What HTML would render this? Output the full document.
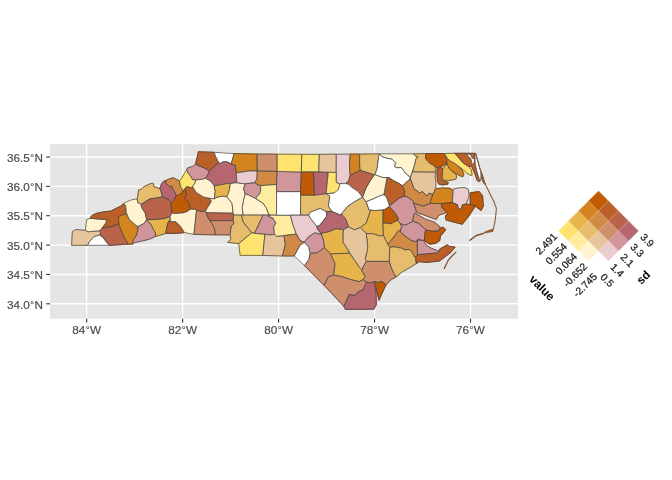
<!DOCTYPE html><html><head><meta charset="utf-8"><style>html,body{margin:0;padding:0;background:#fff;width:672px;height:480px;overflow:hidden;}svg{display:block;will-change:transform;}text{font-family:"Liberation Sans",sans-serif;}</style></head><body>
<svg width="672" height="480" viewBox="0 0 672 480">
<rect x="0" y="0" width="672" height="480" fill="#ffffff"/>
<rect x="50.0" y="144.2" width="468.0" height="174.5" fill="#E5E5E5"/>
<line x1="86.70" y1="144.2" x2="86.70" y2="318.7" stroke="#fff" stroke-width="1.4"/>
<line x1="182.65" y1="144.2" x2="182.65" y2="318.7" stroke="#fff" stroke-width="1.4"/>
<line x1="278.60" y1="144.2" x2="278.60" y2="318.7" stroke="#fff" stroke-width="1.4"/>
<line x1="374.55" y1="144.2" x2="374.55" y2="318.7" stroke="#fff" stroke-width="1.4"/>
<line x1="470.50" y1="144.2" x2="470.50" y2="318.7" stroke="#fff" stroke-width="1.4"/>
<line x1="50.0" y1="157.00" x2="518.0" y2="157.00" stroke="#fff" stroke-width="1.4"/>
<line x1="50.0" y1="186.36" x2="518.0" y2="186.36" stroke="#fff" stroke-width="1.4"/>
<line x1="50.0" y1="215.72" x2="518.0" y2="215.72" stroke="#fff" stroke-width="1.4"/>
<line x1="50.0" y1="245.08" x2="518.0" y2="245.08" stroke="#fff" stroke-width="1.4"/>
<line x1="50.0" y1="274.44" x2="518.0" y2="274.44" stroke="#fff" stroke-width="1.4"/>
<line x1="50.0" y1="303.80" x2="518.0" y2="303.80" stroke="#fff" stroke-width="1.4"/>
<g stroke-width="1.2" stroke-linejoin="round">
<polygon points="71.6,245.3 72.3,231.7 75.9,229.5 85.4,230.3 88.3,231.7 100.0,230.7 100.7,233.9 99.5,235.0 94.1,236.8 89.8,241.2 87.6,245.3" fill="#E7C59C" stroke="#E7C59C"/>
<polygon points="87.6,245.3 89.8,241.2 94.1,236.8 99.5,235.0 102.9,237.1 105.8,241.2 109.4,245.3" fill="#FFFFFF" stroke="#FFFFFF"/>
<polygon points="85.4,230.3 86.1,223.7 86.9,219.3 90.5,218.2 98.5,219.1 104.3,219.3 107.3,220.8 104.3,225.2 102.2,228.1 100.0,230.7 88.3,231.7" fill="#FFF4CF" stroke="#FFF4CF"/>
<polygon points="90.5,218.2 91.2,216.4 93.0,215.1 96.6,213.3 102.9,212.0 106.4,211.5 110.9,211.1 113.6,209.7 118.0,207.5 120.7,206.2 122.5,204.8 123.4,203.5 125.2,204.8 126.1,208.4 126.1,212.0 127.0,214.2 124.3,214.6 121.6,215.1 118.5,216.9 118.9,223.7 113.1,226.3 102.2,228.1 104.3,225.2 107.3,220.8 104.3,219.3 98.5,219.1" fill="#BA5F28" stroke="#BA5F28"/>
<polygon points="100.7,233.9 100.0,230.7 102.2,228.1 113.1,226.3 118.9,223.7 119.6,226.3 122.6,233.9 124.7,238.3 128.4,244.1 109.4,245.3 105.8,241.2 102.9,237.1 99.5,235.0" fill="#B8634A" stroke="#B8634A"/>
<polygon points="118.5,216.9 121.6,215.1 124.3,214.6 127.0,214.2 129.1,219.3 134.9,224.4 137.9,226.6 137.9,231.0 136.4,235.4 133.5,239.7 132.0,244.1 128.4,244.1 124.7,238.3 122.6,233.9 119.6,226.3 118.9,223.7" fill="#D4841F" stroke="#D4841F"/>
<polygon points="123.4,203.5 127.0,201.7 131.4,199.9 135.9,199.0 137.2,199.0 137.9,202.7 141.6,204.1 142.3,208.5 145.2,212.9 146.7,219.8 143.7,223.7 137.9,226.6 134.9,224.4 129.1,219.3 127.0,214.2 126.1,212.0 126.1,208.4 125.2,204.8" fill="#FFF4CF" stroke="#FFF4CF"/>
<polygon points="132.0,244.1 133.5,239.7 136.4,235.4 137.9,231.0 137.9,226.6 143.7,223.7 146.7,219.8 151.0,224.5 153.9,230.4 155.4,232.6 155.4,236.5 149.6,239.1 143.7,240.6 135.0,242.5" fill="#D1959C" stroke="#D1959C"/>
<polygon points="146.7,219.8 153.9,219.4 164.1,218.6 170.0,216.5 170.5,219.0 167.8,223.1 165.6,233.3 162.0,234.7 155.4,236.5 155.4,232.6 153.9,230.4 151.0,224.5" fill="#E7B44C" stroke="#E7B44C"/>
<polygon points="137.2,199.0 138.6,189.9 141.2,189.4 143.9,186.8 145.7,185.9 149.3,184.1 152.0,183.2 153.3,183.6 154.2,187.2 156.4,187.2 158.7,188.1 159.6,189.0 160.5,189.6 162.7,196.9 149.6,199.0 141.6,204.1 137.9,202.7" fill="#E6BD6D" stroke="#E6BD6D"/>
<polygon points="140.8,204.9 149.6,199.0 162.7,196.9 169.2,199.8 171.4,202.7 171.0,204.1 171.2,207.8 172.2,212.9 170.0,216.5 164.1,218.6 153.9,219.4 146.7,219.8 145.2,212.9 142.3,208.5" fill="#B8634A" stroke="#B8634A"/>
<polygon points="159.6,189.0 161.8,183.6 163.6,181.4 165.8,180.5 166.2,183.6 168.5,185.4 169.8,186.8 171.6,185.9 172.5,188.5 174.1,190.5 175.2,193.0 176.2,195.7 174.3,199.8 171.4,202.7 169.2,199.8 162.7,196.9 160.5,189.6" fill="#B5666E" stroke="#B5666E"/>
<polygon points="165.8,180.5 169.8,178.7 173.4,177.8 176.1,179.2 178.8,180.5 179.6,180.5 180.0,183.7 180.6,187.0 183.3,190.8 181.7,193.5 178.4,195.1 176.2,195.7 175.2,193.0 174.1,190.5 172.5,188.5 171.6,185.9 169.8,186.8 168.5,185.4 166.2,183.6" fill="#D08A46" stroke="#D08A46"/>
<polygon points="179.6,180.5 181.4,178.7 183.5,175.0 185.0,172.5 186.8,169.8 188.4,173.5 190.4,175.8 192.5,179.4 195.7,180.0 195.2,182.7 193.9,185.0 192.1,187.2 190.9,188.1 187.1,186.4 185.5,188.1 183.3,190.8 180.6,187.0 180.0,183.7" fill="#FEE36E" stroke="#FEE36E"/>
<polygon points="186.8,169.8 187.6,168.0 192.5,166.4 195.7,164.2 199.0,165.9 203.3,167.5 206.6,169.1 209.3,171.3 207.7,175.1 205.5,178.3 202.2,179.4 195.7,180.0 192.5,179.4 190.4,175.8 188.4,173.5" fill="#D1959C" stroke="#D1959C"/>
<polygon points="198.4,151.8 214.2,152.3 215.8,156.7 218.5,162.1 215.2,165.9 212.5,168.0 209.3,171.3 206.6,169.1 203.3,167.5 199.0,165.9 195.7,163.7 196.8,158.8" fill="#BA5F28" stroke="#BA5F28"/>
<polygon points="214.2,152.3 234.1,153.6 232.7,158.8 231.2,163.9 226.9,161.8 223.2,161.8 219.6,163.9 218.5,162.1 215.8,156.7" fill="#FFFFFF" stroke="#FFFFFF"/>
<polygon points="209.3,171.3 212.5,168.0 215.2,165.9 218.5,162.1 219.6,163.9 223.2,161.8 226.9,161.8 231.2,163.9 235.6,165.4 236.3,172.7 236.9,182.7 226.9,183.6 219.6,185.1 214.2,185.9 210.9,181.6 205.5,178.3 207.7,175.1" fill="#B5666E" stroke="#B5666E"/>
<polygon points="171.0,204.1 171.4,202.7 174.3,199.8 176.2,195.7 178.4,195.1 181.7,193.5 183.3,190.8 185.5,188.1 186.0,191.8 186.7,194.7 184.5,198.3 188.9,202.7 190.4,209.2 187.5,211.4 183.1,212.9 174.3,213.6 172.2,212.9 171.2,207.8" fill="#BE5B04" stroke="#BE5B04"/>
<polygon points="185.5,188.1 187.1,186.4 190.9,188.1 192.5,186.4 196.2,192.5 203.5,196.9 209.3,198.3 211.5,201.2 207.3,208.0 205.5,211.2 201.0,211.6 197.5,210.7 196.6,209.6 190.4,209.2 188.9,202.7 184.5,198.3 186.7,194.7 186.0,191.8" fill="#BA5F28" stroke="#BA5F28"/>
<polygon points="192.5,186.4 195.2,182.7 195.7,180.0 202.2,179.4 205.5,178.3 210.9,181.6 214.2,185.9 215.2,191.3 214.4,199.0 209.3,198.3 203.5,196.9 196.2,192.5" fill="#FFF4CF" stroke="#FFF4CF"/>
<polygon points="165.6,233.3 167.8,223.1 170.5,219.0 170.0,221.6 175.8,221.6 180.2,226.0 184.5,232.6 175.8,233.3" fill="#BA5F28" stroke="#BA5F28"/>
<polygon points="170.5,219.0 170.0,216.5 172.2,212.9 174.3,213.6 183.1,212.9 187.5,211.4 190.4,209.2 196.6,209.6 195.7,217.9 194.8,226.8 193.9,234.4 184.5,232.6 180.2,226.0 175.8,221.6 170.0,221.6" fill="#FFF4CF" stroke="#FFF4CF"/>
<polygon points="196.6,209.6 197.5,210.7 201.0,211.6 205.5,211.2 206.0,212.5 208.2,217.9 211.8,223.2 214.5,228.6 215.4,234.8 193.9,234.4 194.8,226.8 195.7,217.9" fill="#CF8F6D" stroke="#CF8F6D"/>
<polygon points="206.0,212.5 233.2,213.1 233.6,215.1 233.2,220.8 210.0,220.7 208.2,217.9" fill="#B8634A" stroke="#B8634A"/>
<polygon points="210.0,220.7 233.2,220.8 234.1,223.7 231.4,225.9 230.1,234.8 215.4,234.8 214.5,228.6 211.8,223.2" fill="#CF8F6D" stroke="#CF8F6D"/>
<polygon points="211.5,201.2 209.3,198.3 214.4,199.0 215.9,197.5 222.5,196.0 226.9,196.7 232.0,203.3 233.2,213.0 206.0,212.5 205.5,211.2 207.3,208.0" fill="#FFF4CF" stroke="#FFF4CF"/>
<polygon points="214.2,185.9 219.6,185.1 226.9,183.6 230.5,183.5 229.0,191.6 226.9,196.7 222.5,196.0 215.9,197.5 214.4,199.0 215.2,191.3" fill="#E7B44C" stroke="#E7B44C"/>
<polygon points="230.5,183.5 236.9,182.7 245.2,183.9 243.6,188.7 245.2,194.0 243.6,200.4 242.2,207.7 243.2,215.1 233.6,215.1 233.2,213.0 232.0,203.3 226.9,196.7 229.0,191.6" fill="#FFF4CF" stroke="#FFF4CF"/>
<polygon points="234.1,153.6 257.2,154.1 257.2,170.9 248.7,170.9 242.9,172.0 236.3,172.7 235.6,165.4 231.2,163.9 232.7,158.8" fill="#D4841F" stroke="#D4841F"/>
<polygon points="257.2,154.1 277.2,154.2 277.2,171.4 257.2,171.1" fill="#CF8F6D" stroke="#CF8F6D"/>
<polygon points="236.3,172.7 242.9,172.0 248.7,170.9 257.2,171.1 257.1,178.0 256.0,180.5 254.8,182.7 245.2,183.9 236.9,182.7" fill="#EACBCF" stroke="#EACBCF"/>
<polygon points="257.2,171.1 277.2,171.4 276.5,184.5 268.5,185.1 260.7,185.7 257.1,184.5 254.8,182.7 256.0,180.5 257.1,178.0" fill="#D08A46" stroke="#D08A46"/>
<polygon points="245.2,183.9 254.8,182.7 257.1,184.5 260.7,185.7 260.7,190.5 259.5,194.0 256.5,197.0 256.0,198.8 248.8,195.2 245.2,194.0 243.6,188.7" fill="#D1959C" stroke="#D1959C"/>
<polygon points="245.2,194.0 248.8,195.2 256.0,198.8 263.3,203.3 266.2,207.7 269.1,215.1 263.1,215.1 243.2,215.1 242.2,207.7 243.6,200.4" fill="#FFF4CF" stroke="#FFF4CF"/>
<polygon points="260.7,185.7 268.5,185.1 276.5,184.5 276.6,191.6 276.5,215.2 270.8,215.2 269.1,215.1 266.2,207.7 263.3,203.3 256.0,198.8 256.5,197.0 259.5,194.0 260.7,190.5" fill="#FEEC9F" stroke="#FEEC9F"/>
<polygon points="233.6,215.1 241.6,215.1 243.1,221.9 251.8,232.8 238.7,243.7 227.8,242.3 230.7,239.3 230.1,234.8 231.4,225.9 234.1,223.7 233.2,220.8" fill="#E6BD6D" stroke="#E6BD6D"/>
<polygon points="241.6,215.1 263.1,215.1 254.7,233.0 251.8,232.8 243.1,221.9" fill="#E6BD6D" stroke="#E6BD6D"/>
<polygon points="263.1,215.1 269.1,215.1 270.8,215.2 267.9,216.0 273.0,218.1 275.9,223.2 273.7,226.9 274.5,234.1 272.2,235.0 264.9,234.3 254.7,233.5 254.7,233.0" fill="#D1959C" stroke="#D1959C"/>
<polygon points="238.7,243.7 251.8,232.8 254.7,233.5 264.9,234.3 262.8,255.4 240.2,255.4" fill="#FEE36E" stroke="#FEE36E"/>
<polygon points="264.9,234.3 272.2,235.0 274.5,234.1 276.7,236.3 283.9,235.6 285.4,244.3 282.5,256.0 262.8,255.4" fill="#E7C59C" stroke="#E7C59C"/>
<polygon points="270.8,215.2 290.5,215.2 292.7,223.9 296.3,234.1 289.8,234.9 283.9,235.6 276.7,236.3 274.5,234.1 273.7,226.9 275.9,223.2 273.0,218.1 267.9,216.0" fill="#FEEC9F" stroke="#FEEC9F"/>
<polygon points="276.6,191.6 300.6,191.6 300.6,213.5 300.6,215.2 290.5,215.2 276.5,215.2" fill="#FFFFFF" stroke="#FFFFFF"/>
<polygon points="277.2,171.4 301.3,172.0 300.6,191.6 276.6,191.6 276.5,184.3" fill="#D1959C" stroke="#D1959C"/>
<polygon points="277.2,154.2 301.8,154.3 301.3,172.0 277.2,171.4" fill="#FEE36E" stroke="#FEE36E"/>
<polygon points="301.8,154.3 319.3,154.3 318.8,172.0 301.3,172.0" fill="#FEE36E" stroke="#FEE36E"/>
<polygon points="319.3,154.3 336.3,154.2 336.3,172.5 328.3,172.7 318.8,172.0" fill="#E7C59C" stroke="#E7C59C"/>
<polygon points="336.3,154.2 350.2,154.1 349.5,165.4 350.2,175.6 348.7,180.7 345.8,183.6 339.8,184.2 336.1,182.3 336.2,172.5" fill="#EACBCF" stroke="#EACBCF"/>
<polygon points="350.2,154.1 359.7,154.1 359.7,165.4 360.4,170.5 355.3,172.7 350.2,175.6 349.5,165.4" fill="#D4841F" stroke="#D4841F"/>
<polygon points="359.7,154.1 379.5,153.8 378.7,156.7 377.8,163.0 377.0,169.2 374.9,174.6 374.2,174.9 367.7,172.7 360.4,170.5 359.7,165.4" fill="#E6BD6D" stroke="#E6BD6D"/>
<polygon points="379.5,153.8 413.7,153.8 415.3,155.8 418.2,157.1 416.2,158.3 414.5,165.0 412.8,170.8 411.2,175.0 410.3,178.3 407.8,175.0 405.3,173.3 403.7,170.8 401.2,167.5 397.0,167.9 394.5,166.7 395.3,162.5 392.0,159.2 387.0,158.3 382.0,156.7" fill="#FFF4CF" stroke="#FFF4CF"/>
<polygon points="379.5,153.8 378.7,156.7 377.8,163.0 377.0,169.2 374.9,174.6 377.8,175.8 382.8,177.5 388.7,177.5 393.7,180.8 398.7,183.3 402.4,185.8 405.3,183.3 407.8,180.8 409.9,179.6 410.3,178.3 407.8,175.0 405.3,173.3 403.7,170.8 401.2,167.5 397.0,167.9 394.5,166.7 395.3,162.5 392.0,159.2 387.0,158.3 382.0,156.7" fill="#FFFFFF" stroke="#FFFFFF"/>
<polygon points="413.7,153.8 426.1,153.7 425.4,158.1 427.6,161.0 430.0,163.3 433.3,165.0 435.8,167.5 435.8,170.8 434.1,172.2 413.0,172.0 412.8,170.8 414.5,165.0 416.2,158.3 418.2,157.1 415.3,155.8" fill="#E6BD6D" stroke="#E6BD6D"/>
<polygon points="426.1,153.7 444.5,153.5 445.8,156.7 447.1,158.3 447.1,163.3 444.2,165.0 441.7,166.2 437.5,167.5 435.8,167.5 433.3,165.0 430.0,163.3 427.6,161.0 425.4,158.1" fill="#BE5B04" stroke="#BE5B04"/>
<polygon points="437.5,168.3 440.8,167.5 442.9,168.8 442.5,171.7 442.1,176.7 442.9,180.0 445.8,181.7 448.3,182.5 447.5,184.2 442.5,185.0 439.2,184.2 437.5,181.7 437.1,175.8 437.1,170.8" fill="#BA5F28" stroke="#BA5F28"/>
<polygon points="442.9,168.8 445.0,165.8 447.1,164.2 449.2,168.3 452.5,171.7 455.8,173.8 456.7,176.7 455.8,179.2 450.0,180.4 444.6,180.4 442.5,179.2 442.1,176.7 442.5,171.7" fill="#E7B44C" stroke="#E7B44C"/>
<polygon points="446.5,156.7 447.1,158.3 450.0,160.8 455.0,163.3 458.3,166.7 461.7,169.6 463.8,174.2 462.9,176.7 460.0,175.8 456.7,173.8 452.5,171.7 449.2,168.3 447.1,164.2 447.1,163.3" fill="#D4841F" stroke="#D4841F"/>
<polygon points="444.5,153.5 454.9,153.3 462.0,161.7 463.8,163.4 468.5,166.4 471.5,170.0 472.1,175.3 470.3,175.3 466.7,173.0 462.0,168.8 454.9,163.4 450.0,160.8 447.1,158.3 446.5,156.7" fill="#FEE36E" stroke="#FEE36E"/>
<polygon points="454.9,153.3 475.0,153.4 475.0,159.0 475.3,164.7 476.7,170.4 478.1,175.3 479.9,181.0 479.2,181.6 477.1,180.3 475.3,174.6 473.2,169.7 471.5,166.5 468.5,166.4 463.8,163.4 462.0,161.7" fill="#BA5F28" stroke="#BA5F28"/>
<polygon points="466.8,153.7 469.5,154.6 470.6,154.2 471.2,156.2 472.4,158.3 474.6,158.8 474.3,162.0 473.0,164.5 471.8,163.5 471.6,160.5 470.3,158.0 468.5,156.5 467.2,155.0" fill="#FFFFFF" stroke="#FFFFFF"/>
<polygon points="475.0,153.4 475.6,153.2 477.5,160.0 480.0,168.8 481.0,171.8 481.2,176.0 480.3,181.0 479.9,181.0 478.1,175.3 476.7,170.4 475.3,164.7 475.0,159.0" fill="#FFFFFF" stroke="#FFFFFF"/>
<polygon points="481.0,171.8 482.5,176.2 484.4,182.5 485.2,184.0 484.2,183.5 481.5,178.0 481.2,176.0" fill="#BA5F28" stroke="#BA5F28"/>
<polygon points="412.8,170.8 413.0,172.0 434.1,172.2 435.8,171.7 435.0,175.8 435.8,182.5 435.8,188.3 434.2,191.7 432.7,194.5 429.0,193.1 426.9,196.0 422.5,191.6 419.6,193.1 413.7,188.0 412.0,183.3 410.3,178.3 411.2,175.0" fill="#E7C59C" stroke="#E7C59C"/>
<polygon points="402.4,185.8 405.3,183.3 407.8,180.8 409.9,179.6 410.3,178.3 412.0,183.3 413.7,188.0 419.6,193.1 422.5,191.6 426.9,196.0 429.0,193.1 432.7,194.5 432.0,197.5 430.5,201.8 430.6,203.4 423.1,206.2 413.7,203.2 412.8,200.6 406.2,196.4 404.1,196.0 404.8,191.6" fill="#D08A46" stroke="#D08A46"/>
<polygon points="387.0,177.5 388.7,177.5 393.7,180.8 398.7,183.3 402.4,185.8 404.8,191.6 404.1,196.0 402.5,196.9 398.3,198.9 391.0,204.7 389.2,205.1 387.1,198.9 385.6,195.7 383.8,194.9 385.2,187.3" fill="#BA5F28" stroke="#BA5F28"/>
<polygon points="374.2,174.9 374.9,174.6 377.8,175.8 382.8,177.5 387.0,177.5 385.2,187.3 383.8,194.9 381.2,195.3 373.2,198.9 365.9,201.9 362.5,197.2 365.9,188.0 370.7,180.0" fill="#FFF4CF" stroke="#FFF4CF"/>
<polygon points="350.2,175.6 355.3,172.7 360.4,170.5 367.7,172.7 374.2,174.9 370.7,180.0 365.9,188.0 362.5,197.2 358.2,191.6 351.7,187.3 348.7,184.3 345.8,183.6 348.7,180.7" fill="#B8634A" stroke="#B8634A"/>
<polygon points="365.9,201.9 373.2,198.9 381.2,195.3 383.8,194.9 385.6,195.7 387.1,198.9 389.2,205.1 389.5,206.4 384.1,209.9 374.7,210.6 368.8,209.9 366.7,203.3" fill="#FFFFFF" stroke="#FFFFFF"/>
<polygon points="301.3,172.0 313.7,172.0 314.4,195.3 300.6,195.3 300.6,191.6" fill="#BE5B04" stroke="#BE5B04"/>
<polygon points="313.7,172.0 328.3,172.2 326.1,193.8 314.4,195.3" fill="#B5666E" stroke="#B5666E"/>
<polygon points="328.3,172.2 336.2,172.5 336.1,182.3 339.8,184.2 339.2,188.5 337.7,190.6 335.6,192.7 326.1,193.8" fill="#FEE36E" stroke="#FEE36E"/>
<polygon points="340.0,183.6 345.8,183.6 348.7,184.3 351.7,187.3 358.2,191.6 362.5,197.2 355.0,201.5 348.0,206.0 341.5,213.8 340.8,215.2 332.0,211.6 328.3,206.2 329.7,196.0 326.1,193.8 334.1,193.1 338.5,189.4" fill="#FFFFFF" stroke="#FFFFFF"/>
<polygon points="300.6,195.3 314.4,195.3 326.1,193.8 329.7,196.0 328.3,206.2 332.0,211.6 326.2,211.6 320.4,208.6 317.5,209.4 310.2,212.3 308.7,215.2 300.6,215.2" fill="#E6BD6D" stroke="#E6BD6D"/>
<polygon points="308.7,215.2 310.2,212.3 317.5,209.4 320.4,208.6 326.2,211.6 326.9,215.9 323.3,221.0 319.6,225.4 316.9,226.6 310.2,218.1" fill="#FFFFFF" stroke="#FFFFFF"/>
<polygon points="290.5,215.2 300.6,215.2 308.7,215.2 310.2,218.1 316.9,226.6 317.6,229.4 321.0,233.4 320.4,234.4 314.8,232.8 308.5,236.9 304.3,242.2 300.0,240.7 296.3,234.1 292.7,223.9" fill="#EACBCF" stroke="#EACBCF"/>
<polygon points="316.9,226.6 319.6,225.4 323.3,221.0 326.9,215.9 326.2,211.6 332.0,211.6 340.8,215.2 341.5,213.8 345.8,218.9 348.7,227.0 344.4,229.1 343.7,229.8 336.0,228.8 328.5,231.9 321.0,233.4 317.6,229.4" fill="#B5666E" stroke="#B5666E"/>
<polygon points="341.5,213.8 348.0,206.0 355.0,201.5 362.5,197.2 365.9,201.9 366.7,203.3 368.8,209.9 370.6,210.2 367.7,218.9 366.2,223.3 360.4,227.5 354.6,229.9 348.7,227.0 345.8,218.9" fill="#E6BD6D" stroke="#E6BD6D"/>
<polygon points="370.6,210.2 374.7,210.6 384.1,209.9 383.0,210.2 383.0,223.0 383.4,235.5 379.4,236.0 373.6,233.8 366.2,233.5 360.4,227.5 366.2,223.3 367.7,218.9" fill="#E7B44C" stroke="#E7B44C"/>
<polygon points="383.0,210.2 384.1,209.9 389.5,206.4 395.4,213.1 398.6,218.6 397.7,220.4 393.2,222.6 390.6,223.9 388.8,223.5 383.0,223.0" fill="#BE5B04" stroke="#BE5B04"/>
<polygon points="389.5,206.4 391.0,204.7 398.3,198.9 402.5,196.9 406.2,196.4 412.8,200.6 413.7,203.4 416.6,211.9 413.7,214.7 412.8,221.2 408.4,223.9 404.0,225.3 401.3,223.9 400.4,223.9 397.7,220.4 398.6,218.6 395.4,213.1" fill="#D1959C" stroke="#D1959C"/>
<polygon points="383.0,223.0 388.8,223.5 390.6,223.9 393.2,222.6 397.7,220.4 400.4,223.9 401.7,226.6 400.4,230.2 397.7,231.5 395.0,235.5 390.6,240.9 387.9,244.5 386.1,240.9 383.4,235.5" fill="#E7B44C" stroke="#E7B44C"/>
<polygon points="400.4,223.9 401.3,223.9 404.0,225.3 408.4,223.9 412.8,221.2 418.4,223.1 425.9,229.7 425.0,232.5 424.4,240.5 417.5,239.3 416.5,241.8 412.0,240.9 406.6,237.3 400.4,232.0 400.4,230.2 401.7,226.6" fill="#D1959C" stroke="#D1959C"/>
<polygon points="417.5,240.1 423.3,240.5 426.7,245.5 430.8,248.0 439.2,251.3 437.5,253.0 428.3,253.8 417.5,254.7 417.1,247.2" fill="#D1959C" stroke="#D1959C"/>
<polygon points="425.9,229.7 432.5,231.1 439.0,230.6 440.5,228.0 442.8,227.3 445.6,229.7 441.9,234.4 440.5,235.4 439.7,240.5 435.4,243.4 429.5,244.1 424.4,240.5 425.0,232.5" fill="#BE5B04" stroke="#BE5B04"/>
<polygon points="387.9,244.5 390.6,240.9 395.0,235.5 397.7,231.5 400.4,230.2 400.4,232.0 406.6,237.3 412.0,240.9 416.5,241.8 417.5,240.1 417.1,247.2 417.5,254.7 415.7,257.3 414.2,256.7 412.1,252.0 409.0,249.4 404.8,249.9 401.7,248.3 394.4,246.8 389.7,247.3" fill="#D08A46" stroke="#D08A46"/>
<polygon points="389.7,247.3 394.4,246.8 401.7,248.3 404.8,249.9 409.0,249.4 412.1,252.0 414.2,256.7 415.7,257.3 416.3,263.4 410.0,267.6 401.7,272.3 396.5,276.5 394.4,274.4 391.3,268.1 389.2,260.8" fill="#E6BD6D" stroke="#E6BD6D"/>
<polygon points="415.7,257.3 417.5,254.7 428.3,253.8 437.5,253.0 439.2,251.3 439.7,249.2 447.0,244.9 449.2,246.3 455.0,247.1 450.0,252.9 444.1,257.3 439.7,260.9 426.6,262.4 419.3,261.6 416.3,263.4" fill="#BA5F28" stroke="#BA5F28"/>
<polygon points="366.2,233.5 373.6,233.8 379.4,236.0 383.4,235.5 386.1,240.9 387.9,244.5 389.7,247.3 389.2,260.8 389.2,261.4 375.6,261.4 366.3,261.4 365.2,258.8 367.3,250.4 367.7,246.6" fill="#E6BD6D" stroke="#E6BD6D"/>
<polygon points="343.7,229.8 344.4,229.1 348.7,227.0 354.6,229.9 360.4,227.5 366.2,233.5 367.7,246.6 367.3,250.4 365.2,258.8 366.3,261.4 363.1,267.1 362.1,270.0 359.2,267.1 349.7,253.2 348.7,251.0 342.9,242.3 342.9,233.5" fill="#E7C59C" stroke="#E7C59C"/>
<polygon points="321.0,233.4 328.5,231.9 336.0,228.8 343.7,229.8 342.9,233.5 342.9,242.3 348.7,251.0 349.7,253.2 330.7,254.0 324.5,247.7 323.3,240.0" fill="#E7B44C" stroke="#E7B44C"/>
<polygon points="304.3,242.2 308.5,236.9 314.8,232.8 320.4,234.4 321.0,233.4 323.3,240.0 324.5,247.7 317.2,252.8 310.0,253.5 308.7,247.3" fill="#D1959C" stroke="#D1959C"/>
<polygon points="294.1,256.0 300.0,245.1 304.3,242.2 308.7,247.3 310.0,253.5 309.0,259.5 304.5,265.6 294.5,256.2" fill="#FFFFFF" stroke="#FFFFFF"/>
<polygon points="283.9,235.6 289.8,234.9 296.3,234.1 300.0,240.7 304.3,242.2 300.0,245.1 294.1,256.0 282.5,256.0 285.4,244.3" fill="#D08A46" stroke="#D08A46"/>
<polygon points="304.5,265.6 309.0,259.5 310.0,253.5 317.2,252.8 324.5,247.7 330.7,254.0 335.1,263.4 333.7,275.1 328.5,276.6 324.2,285.3" fill="#CF8F6D" stroke="#CF8F6D"/>
<polygon points="330.7,254.0 349.7,253.2 359.2,267.1 362.1,270.0 362.1,271.3 365.2,276.5 363.1,279.6 359.2,281.7 350.4,279.5 341.7,276.6 333.7,275.1 335.1,263.4" fill="#E7B44C" stroke="#E7B44C"/>
<polygon points="366.3,261.4 375.6,261.4 389.2,261.4 391.3,268.1 394.4,274.4 395.9,277.0 391.3,279.6 386.0,284.8 381.9,281.4 377.7,282.7 374.6,281.7 370.4,282.7 366.3,282.2 363.1,279.6 365.2,276.5 362.1,271.3 362.1,270.0 363.1,267.1" fill="#CF8F6D" stroke="#CF8F6D"/>
<polygon points="324.2,285.3 328.5,276.6 333.7,275.1 341.7,276.6 350.4,279.5 359.2,281.7 363.1,279.6 366.3,282.2 367.5,282.5 365.4,284.6 363.3,289.8 358.1,291.9 355.0,295.5 349.3,294.5 347.7,298.1 343.8,306.2" fill="#CF8F6D" stroke="#CF8F6D"/>
<polygon points="343.8,306.2 347.7,298.1 349.3,294.5 355.0,295.5 358.1,291.9 363.3,289.8 365.4,284.6 366.3,282.2 370.4,282.7 374.6,281.7 374.8,285.6 375.8,290.8 376.4,304.4 373.8,309.1 345.6,309.4" fill="#B5666E" stroke="#B5666E"/>
<polygon points="374.6,281.7 377.7,282.7 381.9,281.4 386.0,284.8 382.1,292.9 379.0,300.2 377.4,294.0 376.4,287.7 374.8,285.6" fill="#BE5B04" stroke="#BE5B04"/>
<polygon points="413.7,203.2 423.1,206.2 430.6,203.4 441.4,203.6 441.9,207.2 446.5,212.3 443.7,213.7 439.0,215.1 436.2,219.4 430.6,217.5 423.1,214.7 417.5,212.8 416.6,211.9" fill="#CF8F6D" stroke="#CF8F6D"/>
<polygon points="413.7,214.7 415.2,213.3 418.4,215.1 425.9,219.4 434.4,222.2 440.0,226.9 439.0,230.6 432.5,231.1 425.9,229.7 418.4,223.1 412.8,221.2" fill="#CF8F6D" stroke="#CF8F6D"/>
<polygon points="430.5,201.8 432.0,197.5 432.7,194.5 434.2,191.7 435.0,189.2 441.7,187.9 450.0,188.3 452.5,190.0 453.1,190.2 452.4,202.6 441.4,203.6 430.6,203.4" fill="#D4841F" stroke="#D4841F"/>
<polygon points="453.1,190.2 453.3,189.2 458.3,187.9 465.0,187.5 468.4,189.4 469.1,196.0 466.2,204.0 462.6,204.7 461.1,209.1 458.2,209.1 457.5,204.7 452.4,202.6" fill="#EACBCF" stroke="#EACBCF"/>
<polygon points="470.2,192.9 478.9,191.5 482.6,195.8 483.3,206.0 481.1,210.4 475.3,206.0 470.2,204.6" fill="#BE5B04" stroke="#BE5B04"/>
<polygon points="441.4,203.6 452.4,202.6 457.5,204.7 458.2,209.1 461.1,209.1 462.6,204.7 466.2,204.0 470.2,204.6 475.3,206.0 468.7,216.2 462.2,224.2 454.1,222.1 446.1,219.9 445.4,216.2 447.6,213.3 446.5,212.3 441.9,207.2" fill="#BE5B04" stroke="#BE5B04"/>
</g>
<g stroke="#474747" stroke-width="0.75" stroke-linejoin="round">
<polygon points="71.6,245.3 72.3,231.7 75.9,229.5 85.4,230.3 88.3,231.7 100.0,230.7 100.7,233.9 99.5,235.0 94.1,236.8 89.8,241.2 87.6,245.3" fill="#E7C59C"/>
<polygon points="87.6,245.3 89.8,241.2 94.1,236.8 99.5,235.0 102.9,237.1 105.8,241.2 109.4,245.3" fill="#FFFFFF"/>
<polygon points="85.4,230.3 86.1,223.7 86.9,219.3 90.5,218.2 98.5,219.1 104.3,219.3 107.3,220.8 104.3,225.2 102.2,228.1 100.0,230.7 88.3,231.7" fill="#FFF4CF"/>
<polygon points="90.5,218.2 91.2,216.4 93.0,215.1 96.6,213.3 102.9,212.0 106.4,211.5 110.9,211.1 113.6,209.7 118.0,207.5 120.7,206.2 122.5,204.8 123.4,203.5 125.2,204.8 126.1,208.4 126.1,212.0 127.0,214.2 124.3,214.6 121.6,215.1 118.5,216.9 118.9,223.7 113.1,226.3 102.2,228.1 104.3,225.2 107.3,220.8 104.3,219.3 98.5,219.1" fill="#BA5F28"/>
<polygon points="100.7,233.9 100.0,230.7 102.2,228.1 113.1,226.3 118.9,223.7 119.6,226.3 122.6,233.9 124.7,238.3 128.4,244.1 109.4,245.3 105.8,241.2 102.9,237.1 99.5,235.0" fill="#B8634A"/>
<polygon points="118.5,216.9 121.6,215.1 124.3,214.6 127.0,214.2 129.1,219.3 134.9,224.4 137.9,226.6 137.9,231.0 136.4,235.4 133.5,239.7 132.0,244.1 128.4,244.1 124.7,238.3 122.6,233.9 119.6,226.3 118.9,223.7" fill="#D4841F"/>
<polygon points="123.4,203.5 127.0,201.7 131.4,199.9 135.9,199.0 137.2,199.0 137.9,202.7 141.6,204.1 142.3,208.5 145.2,212.9 146.7,219.8 143.7,223.7 137.9,226.6 134.9,224.4 129.1,219.3 127.0,214.2 126.1,212.0 126.1,208.4 125.2,204.8" fill="#FFF4CF"/>
<polygon points="132.0,244.1 133.5,239.7 136.4,235.4 137.9,231.0 137.9,226.6 143.7,223.7 146.7,219.8 151.0,224.5 153.9,230.4 155.4,232.6 155.4,236.5 149.6,239.1 143.7,240.6 135.0,242.5" fill="#D1959C"/>
<polygon points="146.7,219.8 153.9,219.4 164.1,218.6 170.0,216.5 170.5,219.0 167.8,223.1 165.6,233.3 162.0,234.7 155.4,236.5 155.4,232.6 153.9,230.4 151.0,224.5" fill="#E7B44C"/>
<polygon points="137.2,199.0 138.6,189.9 141.2,189.4 143.9,186.8 145.7,185.9 149.3,184.1 152.0,183.2 153.3,183.6 154.2,187.2 156.4,187.2 158.7,188.1 159.6,189.0 160.5,189.6 162.7,196.9 149.6,199.0 141.6,204.1 137.9,202.7" fill="#E6BD6D"/>
<polygon points="140.8,204.9 149.6,199.0 162.7,196.9 169.2,199.8 171.4,202.7 171.0,204.1 171.2,207.8 172.2,212.9 170.0,216.5 164.1,218.6 153.9,219.4 146.7,219.8 145.2,212.9 142.3,208.5" fill="#B8634A"/>
<polygon points="159.6,189.0 161.8,183.6 163.6,181.4 165.8,180.5 166.2,183.6 168.5,185.4 169.8,186.8 171.6,185.9 172.5,188.5 174.1,190.5 175.2,193.0 176.2,195.7 174.3,199.8 171.4,202.7 169.2,199.8 162.7,196.9 160.5,189.6" fill="#B5666E"/>
<polygon points="165.8,180.5 169.8,178.7 173.4,177.8 176.1,179.2 178.8,180.5 179.6,180.5 180.0,183.7 180.6,187.0 183.3,190.8 181.7,193.5 178.4,195.1 176.2,195.7 175.2,193.0 174.1,190.5 172.5,188.5 171.6,185.9 169.8,186.8 168.5,185.4 166.2,183.6" fill="#D08A46"/>
<polygon points="179.6,180.5 181.4,178.7 183.5,175.0 185.0,172.5 186.8,169.8 188.4,173.5 190.4,175.8 192.5,179.4 195.7,180.0 195.2,182.7 193.9,185.0 192.1,187.2 190.9,188.1 187.1,186.4 185.5,188.1 183.3,190.8 180.6,187.0 180.0,183.7" fill="#FEE36E"/>
<polygon points="186.8,169.8 187.6,168.0 192.5,166.4 195.7,164.2 199.0,165.9 203.3,167.5 206.6,169.1 209.3,171.3 207.7,175.1 205.5,178.3 202.2,179.4 195.7,180.0 192.5,179.4 190.4,175.8 188.4,173.5" fill="#D1959C"/>
<polygon points="198.4,151.8 214.2,152.3 215.8,156.7 218.5,162.1 215.2,165.9 212.5,168.0 209.3,171.3 206.6,169.1 203.3,167.5 199.0,165.9 195.7,163.7 196.8,158.8" fill="#BA5F28"/>
<polygon points="214.2,152.3 234.1,153.6 232.7,158.8 231.2,163.9 226.9,161.8 223.2,161.8 219.6,163.9 218.5,162.1 215.8,156.7" fill="#FFFFFF"/>
<polygon points="209.3,171.3 212.5,168.0 215.2,165.9 218.5,162.1 219.6,163.9 223.2,161.8 226.9,161.8 231.2,163.9 235.6,165.4 236.3,172.7 236.9,182.7 226.9,183.6 219.6,185.1 214.2,185.9 210.9,181.6 205.5,178.3 207.7,175.1" fill="#B5666E"/>
<polygon points="171.0,204.1 171.4,202.7 174.3,199.8 176.2,195.7 178.4,195.1 181.7,193.5 183.3,190.8 185.5,188.1 186.0,191.8 186.7,194.7 184.5,198.3 188.9,202.7 190.4,209.2 187.5,211.4 183.1,212.9 174.3,213.6 172.2,212.9 171.2,207.8" fill="#BE5B04"/>
<polygon points="185.5,188.1 187.1,186.4 190.9,188.1 192.5,186.4 196.2,192.5 203.5,196.9 209.3,198.3 211.5,201.2 207.3,208.0 205.5,211.2 201.0,211.6 197.5,210.7 196.6,209.6 190.4,209.2 188.9,202.7 184.5,198.3 186.7,194.7 186.0,191.8" fill="#BA5F28"/>
<polygon points="192.5,186.4 195.2,182.7 195.7,180.0 202.2,179.4 205.5,178.3 210.9,181.6 214.2,185.9 215.2,191.3 214.4,199.0 209.3,198.3 203.5,196.9 196.2,192.5" fill="#FFF4CF"/>
<polygon points="165.6,233.3 167.8,223.1 170.5,219.0 170.0,221.6 175.8,221.6 180.2,226.0 184.5,232.6 175.8,233.3" fill="#BA5F28"/>
<polygon points="170.5,219.0 170.0,216.5 172.2,212.9 174.3,213.6 183.1,212.9 187.5,211.4 190.4,209.2 196.6,209.6 195.7,217.9 194.8,226.8 193.9,234.4 184.5,232.6 180.2,226.0 175.8,221.6 170.0,221.6" fill="#FFF4CF"/>
<polygon points="196.6,209.6 197.5,210.7 201.0,211.6 205.5,211.2 206.0,212.5 208.2,217.9 211.8,223.2 214.5,228.6 215.4,234.8 193.9,234.4 194.8,226.8 195.7,217.9" fill="#CF8F6D"/>
<polygon points="206.0,212.5 233.2,213.1 233.6,215.1 233.2,220.8 210.0,220.7 208.2,217.9" fill="#B8634A"/>
<polygon points="210.0,220.7 233.2,220.8 234.1,223.7 231.4,225.9 230.1,234.8 215.4,234.8 214.5,228.6 211.8,223.2" fill="#CF8F6D"/>
<polygon points="211.5,201.2 209.3,198.3 214.4,199.0 215.9,197.5 222.5,196.0 226.9,196.7 232.0,203.3 233.2,213.0 206.0,212.5 205.5,211.2 207.3,208.0" fill="#FFF4CF"/>
<polygon points="214.2,185.9 219.6,185.1 226.9,183.6 230.5,183.5 229.0,191.6 226.9,196.7 222.5,196.0 215.9,197.5 214.4,199.0 215.2,191.3" fill="#E7B44C"/>
<polygon points="230.5,183.5 236.9,182.7 245.2,183.9 243.6,188.7 245.2,194.0 243.6,200.4 242.2,207.7 243.2,215.1 233.6,215.1 233.2,213.0 232.0,203.3 226.9,196.7 229.0,191.6" fill="#FFF4CF"/>
<polygon points="234.1,153.6 257.2,154.1 257.2,170.9 248.7,170.9 242.9,172.0 236.3,172.7 235.6,165.4 231.2,163.9 232.7,158.8" fill="#D4841F"/>
<polygon points="257.2,154.1 277.2,154.2 277.2,171.4 257.2,171.1" fill="#CF8F6D"/>
<polygon points="236.3,172.7 242.9,172.0 248.7,170.9 257.2,171.1 257.1,178.0 256.0,180.5 254.8,182.7 245.2,183.9 236.9,182.7" fill="#EACBCF"/>
<polygon points="257.2,171.1 277.2,171.4 276.5,184.5 268.5,185.1 260.7,185.7 257.1,184.5 254.8,182.7 256.0,180.5 257.1,178.0" fill="#D08A46"/>
<polygon points="245.2,183.9 254.8,182.7 257.1,184.5 260.7,185.7 260.7,190.5 259.5,194.0 256.5,197.0 256.0,198.8 248.8,195.2 245.2,194.0 243.6,188.7" fill="#D1959C"/>
<polygon points="245.2,194.0 248.8,195.2 256.0,198.8 263.3,203.3 266.2,207.7 269.1,215.1 263.1,215.1 243.2,215.1 242.2,207.7 243.6,200.4" fill="#FFF4CF"/>
<polygon points="260.7,185.7 268.5,185.1 276.5,184.5 276.6,191.6 276.5,215.2 270.8,215.2 269.1,215.1 266.2,207.7 263.3,203.3 256.0,198.8 256.5,197.0 259.5,194.0 260.7,190.5" fill="#FEEC9F"/>
<polygon points="233.6,215.1 241.6,215.1 243.1,221.9 251.8,232.8 238.7,243.7 227.8,242.3 230.7,239.3 230.1,234.8 231.4,225.9 234.1,223.7 233.2,220.8" fill="#E6BD6D"/>
<polygon points="241.6,215.1 263.1,215.1 254.7,233.0 251.8,232.8 243.1,221.9" fill="#E6BD6D"/>
<polygon points="263.1,215.1 269.1,215.1 270.8,215.2 267.9,216.0 273.0,218.1 275.9,223.2 273.7,226.9 274.5,234.1 272.2,235.0 264.9,234.3 254.7,233.5 254.7,233.0" fill="#D1959C"/>
<polygon points="238.7,243.7 251.8,232.8 254.7,233.5 264.9,234.3 262.8,255.4 240.2,255.4" fill="#FEE36E"/>
<polygon points="264.9,234.3 272.2,235.0 274.5,234.1 276.7,236.3 283.9,235.6 285.4,244.3 282.5,256.0 262.8,255.4" fill="#E7C59C"/>
<polygon points="270.8,215.2 290.5,215.2 292.7,223.9 296.3,234.1 289.8,234.9 283.9,235.6 276.7,236.3 274.5,234.1 273.7,226.9 275.9,223.2 273.0,218.1 267.9,216.0" fill="#FEEC9F"/>
<polygon points="276.6,191.6 300.6,191.6 300.6,213.5 300.6,215.2 290.5,215.2 276.5,215.2" fill="#FFFFFF"/>
<polygon points="277.2,171.4 301.3,172.0 300.6,191.6 276.6,191.6 276.5,184.3" fill="#D1959C"/>
<polygon points="277.2,154.2 301.8,154.3 301.3,172.0 277.2,171.4" fill="#FEE36E"/>
<polygon points="301.8,154.3 319.3,154.3 318.8,172.0 301.3,172.0" fill="#FEE36E"/>
<polygon points="319.3,154.3 336.3,154.2 336.3,172.5 328.3,172.7 318.8,172.0" fill="#E7C59C"/>
<polygon points="336.3,154.2 350.2,154.1 349.5,165.4 350.2,175.6 348.7,180.7 345.8,183.6 339.8,184.2 336.1,182.3 336.2,172.5" fill="#EACBCF"/>
<polygon points="350.2,154.1 359.7,154.1 359.7,165.4 360.4,170.5 355.3,172.7 350.2,175.6 349.5,165.4" fill="#D4841F"/>
<polygon points="359.7,154.1 379.5,153.8 378.7,156.7 377.8,163.0 377.0,169.2 374.9,174.6 374.2,174.9 367.7,172.7 360.4,170.5 359.7,165.4" fill="#E6BD6D"/>
<polygon points="379.5,153.8 413.7,153.8 415.3,155.8 418.2,157.1 416.2,158.3 414.5,165.0 412.8,170.8 411.2,175.0 410.3,178.3 407.8,175.0 405.3,173.3 403.7,170.8 401.2,167.5 397.0,167.9 394.5,166.7 395.3,162.5 392.0,159.2 387.0,158.3 382.0,156.7" fill="#FFF4CF"/>
<polygon points="379.5,153.8 378.7,156.7 377.8,163.0 377.0,169.2 374.9,174.6 377.8,175.8 382.8,177.5 388.7,177.5 393.7,180.8 398.7,183.3 402.4,185.8 405.3,183.3 407.8,180.8 409.9,179.6 410.3,178.3 407.8,175.0 405.3,173.3 403.7,170.8 401.2,167.5 397.0,167.9 394.5,166.7 395.3,162.5 392.0,159.2 387.0,158.3 382.0,156.7" fill="#FFFFFF"/>
<polygon points="413.7,153.8 426.1,153.7 425.4,158.1 427.6,161.0 430.0,163.3 433.3,165.0 435.8,167.5 435.8,170.8 434.1,172.2 413.0,172.0 412.8,170.8 414.5,165.0 416.2,158.3 418.2,157.1 415.3,155.8" fill="#E6BD6D"/>
<polygon points="426.1,153.7 444.5,153.5 445.8,156.7 447.1,158.3 447.1,163.3 444.2,165.0 441.7,166.2 437.5,167.5 435.8,167.5 433.3,165.0 430.0,163.3 427.6,161.0 425.4,158.1" fill="#BE5B04"/>
<polygon points="437.5,168.3 440.8,167.5 442.9,168.8 442.5,171.7 442.1,176.7 442.9,180.0 445.8,181.7 448.3,182.5 447.5,184.2 442.5,185.0 439.2,184.2 437.5,181.7 437.1,175.8 437.1,170.8" fill="#BA5F28"/>
<polygon points="442.9,168.8 445.0,165.8 447.1,164.2 449.2,168.3 452.5,171.7 455.8,173.8 456.7,176.7 455.8,179.2 450.0,180.4 444.6,180.4 442.5,179.2 442.1,176.7 442.5,171.7" fill="#E7B44C"/>
<polygon points="446.5,156.7 447.1,158.3 450.0,160.8 455.0,163.3 458.3,166.7 461.7,169.6 463.8,174.2 462.9,176.7 460.0,175.8 456.7,173.8 452.5,171.7 449.2,168.3 447.1,164.2 447.1,163.3" fill="#D4841F"/>
<polygon points="444.5,153.5 454.9,153.3 462.0,161.7 463.8,163.4 468.5,166.4 471.5,170.0 472.1,175.3 470.3,175.3 466.7,173.0 462.0,168.8 454.9,163.4 450.0,160.8 447.1,158.3 446.5,156.7" fill="#FEE36E"/>
<polygon points="454.9,153.3 475.0,153.4 475.0,159.0 475.3,164.7 476.7,170.4 478.1,175.3 479.9,181.0 479.2,181.6 477.1,180.3 475.3,174.6 473.2,169.7 471.5,166.5 468.5,166.4 463.8,163.4 462.0,161.7" fill="#BA5F28"/>
<polygon points="466.8,153.7 469.5,154.6 470.6,154.2 471.2,156.2 472.4,158.3 474.6,158.8 474.3,162.0 473.0,164.5 471.8,163.5 471.6,160.5 470.3,158.0 468.5,156.5 467.2,155.0" fill="#FFFFFF"/>
<polygon points="475.0,153.4 475.6,153.2 477.5,160.0 480.0,168.8 481.0,171.8 481.2,176.0 480.3,181.0 479.9,181.0 478.1,175.3 476.7,170.4 475.3,164.7 475.0,159.0" fill="#FFFFFF"/>
<polygon points="481.0,171.8 482.5,176.2 484.4,182.5 485.2,184.0 484.2,183.5 481.5,178.0 481.2,176.0" fill="#BA5F28"/>
<polygon points="412.8,170.8 413.0,172.0 434.1,172.2 435.8,171.7 435.0,175.8 435.8,182.5 435.8,188.3 434.2,191.7 432.7,194.5 429.0,193.1 426.9,196.0 422.5,191.6 419.6,193.1 413.7,188.0 412.0,183.3 410.3,178.3 411.2,175.0" fill="#E7C59C"/>
<polygon points="402.4,185.8 405.3,183.3 407.8,180.8 409.9,179.6 410.3,178.3 412.0,183.3 413.7,188.0 419.6,193.1 422.5,191.6 426.9,196.0 429.0,193.1 432.7,194.5 432.0,197.5 430.5,201.8 430.6,203.4 423.1,206.2 413.7,203.2 412.8,200.6 406.2,196.4 404.1,196.0 404.8,191.6" fill="#D08A46"/>
<polygon points="387.0,177.5 388.7,177.5 393.7,180.8 398.7,183.3 402.4,185.8 404.8,191.6 404.1,196.0 402.5,196.9 398.3,198.9 391.0,204.7 389.2,205.1 387.1,198.9 385.6,195.7 383.8,194.9 385.2,187.3" fill="#BA5F28"/>
<polygon points="374.2,174.9 374.9,174.6 377.8,175.8 382.8,177.5 387.0,177.5 385.2,187.3 383.8,194.9 381.2,195.3 373.2,198.9 365.9,201.9 362.5,197.2 365.9,188.0 370.7,180.0" fill="#FFF4CF"/>
<polygon points="350.2,175.6 355.3,172.7 360.4,170.5 367.7,172.7 374.2,174.9 370.7,180.0 365.9,188.0 362.5,197.2 358.2,191.6 351.7,187.3 348.7,184.3 345.8,183.6 348.7,180.7" fill="#B8634A"/>
<polygon points="365.9,201.9 373.2,198.9 381.2,195.3 383.8,194.9 385.6,195.7 387.1,198.9 389.2,205.1 389.5,206.4 384.1,209.9 374.7,210.6 368.8,209.9 366.7,203.3" fill="#FFFFFF"/>
<polygon points="301.3,172.0 313.7,172.0 314.4,195.3 300.6,195.3 300.6,191.6" fill="#BE5B04"/>
<polygon points="313.7,172.0 328.3,172.2 326.1,193.8 314.4,195.3" fill="#B5666E"/>
<polygon points="328.3,172.2 336.2,172.5 336.1,182.3 339.8,184.2 339.2,188.5 337.7,190.6 335.6,192.7 326.1,193.8" fill="#FEE36E"/>
<polygon points="340.0,183.6 345.8,183.6 348.7,184.3 351.7,187.3 358.2,191.6 362.5,197.2 355.0,201.5 348.0,206.0 341.5,213.8 340.8,215.2 332.0,211.6 328.3,206.2 329.7,196.0 326.1,193.8 334.1,193.1 338.5,189.4" fill="#FFFFFF"/>
<polygon points="300.6,195.3 314.4,195.3 326.1,193.8 329.7,196.0 328.3,206.2 332.0,211.6 326.2,211.6 320.4,208.6 317.5,209.4 310.2,212.3 308.7,215.2 300.6,215.2" fill="#E6BD6D"/>
<polygon points="308.7,215.2 310.2,212.3 317.5,209.4 320.4,208.6 326.2,211.6 326.9,215.9 323.3,221.0 319.6,225.4 316.9,226.6 310.2,218.1" fill="#FFFFFF"/>
<polygon points="290.5,215.2 300.6,215.2 308.7,215.2 310.2,218.1 316.9,226.6 317.6,229.4 321.0,233.4 320.4,234.4 314.8,232.8 308.5,236.9 304.3,242.2 300.0,240.7 296.3,234.1 292.7,223.9" fill="#EACBCF"/>
<polygon points="316.9,226.6 319.6,225.4 323.3,221.0 326.9,215.9 326.2,211.6 332.0,211.6 340.8,215.2 341.5,213.8 345.8,218.9 348.7,227.0 344.4,229.1 343.7,229.8 336.0,228.8 328.5,231.9 321.0,233.4 317.6,229.4" fill="#B5666E"/>
<polygon points="341.5,213.8 348.0,206.0 355.0,201.5 362.5,197.2 365.9,201.9 366.7,203.3 368.8,209.9 370.6,210.2 367.7,218.9 366.2,223.3 360.4,227.5 354.6,229.9 348.7,227.0 345.8,218.9" fill="#E6BD6D"/>
<polygon points="370.6,210.2 374.7,210.6 384.1,209.9 383.0,210.2 383.0,223.0 383.4,235.5 379.4,236.0 373.6,233.8 366.2,233.5 360.4,227.5 366.2,223.3 367.7,218.9" fill="#E7B44C"/>
<polygon points="383.0,210.2 384.1,209.9 389.5,206.4 395.4,213.1 398.6,218.6 397.7,220.4 393.2,222.6 390.6,223.9 388.8,223.5 383.0,223.0" fill="#BE5B04"/>
<polygon points="389.5,206.4 391.0,204.7 398.3,198.9 402.5,196.9 406.2,196.4 412.8,200.6 413.7,203.4 416.6,211.9 413.7,214.7 412.8,221.2 408.4,223.9 404.0,225.3 401.3,223.9 400.4,223.9 397.7,220.4 398.6,218.6 395.4,213.1" fill="#D1959C"/>
<polygon points="383.0,223.0 388.8,223.5 390.6,223.9 393.2,222.6 397.7,220.4 400.4,223.9 401.7,226.6 400.4,230.2 397.7,231.5 395.0,235.5 390.6,240.9 387.9,244.5 386.1,240.9 383.4,235.5" fill="#E7B44C"/>
<polygon points="400.4,223.9 401.3,223.9 404.0,225.3 408.4,223.9 412.8,221.2 418.4,223.1 425.9,229.7 425.0,232.5 424.4,240.5 417.5,239.3 416.5,241.8 412.0,240.9 406.6,237.3 400.4,232.0 400.4,230.2 401.7,226.6" fill="#D1959C"/>
<polygon points="417.5,240.1 423.3,240.5 426.7,245.5 430.8,248.0 439.2,251.3 437.5,253.0 428.3,253.8 417.5,254.7 417.1,247.2" fill="#D1959C"/>
<polygon points="425.9,229.7 432.5,231.1 439.0,230.6 440.5,228.0 442.8,227.3 445.6,229.7 441.9,234.4 440.5,235.4 439.7,240.5 435.4,243.4 429.5,244.1 424.4,240.5 425.0,232.5" fill="#BE5B04"/>
<polygon points="387.9,244.5 390.6,240.9 395.0,235.5 397.7,231.5 400.4,230.2 400.4,232.0 406.6,237.3 412.0,240.9 416.5,241.8 417.5,240.1 417.1,247.2 417.5,254.7 415.7,257.3 414.2,256.7 412.1,252.0 409.0,249.4 404.8,249.9 401.7,248.3 394.4,246.8 389.7,247.3" fill="#D08A46"/>
<polygon points="389.7,247.3 394.4,246.8 401.7,248.3 404.8,249.9 409.0,249.4 412.1,252.0 414.2,256.7 415.7,257.3 416.3,263.4 410.0,267.6 401.7,272.3 396.5,276.5 394.4,274.4 391.3,268.1 389.2,260.8" fill="#E6BD6D"/>
<polygon points="415.7,257.3 417.5,254.7 428.3,253.8 437.5,253.0 439.2,251.3 439.7,249.2 447.0,244.9 449.2,246.3 455.0,247.1 450.0,252.9 444.1,257.3 439.7,260.9 426.6,262.4 419.3,261.6 416.3,263.4" fill="#BA5F28"/>
<polygon points="366.2,233.5 373.6,233.8 379.4,236.0 383.4,235.5 386.1,240.9 387.9,244.5 389.7,247.3 389.2,260.8 389.2,261.4 375.6,261.4 366.3,261.4 365.2,258.8 367.3,250.4 367.7,246.6" fill="#E6BD6D"/>
<polygon points="343.7,229.8 344.4,229.1 348.7,227.0 354.6,229.9 360.4,227.5 366.2,233.5 367.7,246.6 367.3,250.4 365.2,258.8 366.3,261.4 363.1,267.1 362.1,270.0 359.2,267.1 349.7,253.2 348.7,251.0 342.9,242.3 342.9,233.5" fill="#E7C59C"/>
<polygon points="321.0,233.4 328.5,231.9 336.0,228.8 343.7,229.8 342.9,233.5 342.9,242.3 348.7,251.0 349.7,253.2 330.7,254.0 324.5,247.7 323.3,240.0" fill="#E7B44C"/>
<polygon points="304.3,242.2 308.5,236.9 314.8,232.8 320.4,234.4 321.0,233.4 323.3,240.0 324.5,247.7 317.2,252.8 310.0,253.5 308.7,247.3" fill="#D1959C"/>
<polygon points="294.1,256.0 300.0,245.1 304.3,242.2 308.7,247.3 310.0,253.5 309.0,259.5 304.5,265.6 294.5,256.2" fill="#FFFFFF"/>
<polygon points="283.9,235.6 289.8,234.9 296.3,234.1 300.0,240.7 304.3,242.2 300.0,245.1 294.1,256.0 282.5,256.0 285.4,244.3" fill="#D08A46"/>
<polygon points="304.5,265.6 309.0,259.5 310.0,253.5 317.2,252.8 324.5,247.7 330.7,254.0 335.1,263.4 333.7,275.1 328.5,276.6 324.2,285.3" fill="#CF8F6D"/>
<polygon points="330.7,254.0 349.7,253.2 359.2,267.1 362.1,270.0 362.1,271.3 365.2,276.5 363.1,279.6 359.2,281.7 350.4,279.5 341.7,276.6 333.7,275.1 335.1,263.4" fill="#E7B44C"/>
<polygon points="366.3,261.4 375.6,261.4 389.2,261.4 391.3,268.1 394.4,274.4 395.9,277.0 391.3,279.6 386.0,284.8 381.9,281.4 377.7,282.7 374.6,281.7 370.4,282.7 366.3,282.2 363.1,279.6 365.2,276.5 362.1,271.3 362.1,270.0 363.1,267.1" fill="#CF8F6D"/>
<polygon points="324.2,285.3 328.5,276.6 333.7,275.1 341.7,276.6 350.4,279.5 359.2,281.7 363.1,279.6 366.3,282.2 367.5,282.5 365.4,284.6 363.3,289.8 358.1,291.9 355.0,295.5 349.3,294.5 347.7,298.1 343.8,306.2" fill="#CF8F6D"/>
<polygon points="343.8,306.2 347.7,298.1 349.3,294.5 355.0,295.5 358.1,291.9 363.3,289.8 365.4,284.6 366.3,282.2 370.4,282.7 374.6,281.7 374.8,285.6 375.8,290.8 376.4,304.4 373.8,309.1 345.6,309.4" fill="#B5666E"/>
<polygon points="374.6,281.7 377.7,282.7 381.9,281.4 386.0,284.8 382.1,292.9 379.0,300.2 377.4,294.0 376.4,287.7 374.8,285.6" fill="#BE5B04"/>
<polygon points="413.7,203.2 423.1,206.2 430.6,203.4 441.4,203.6 441.9,207.2 446.5,212.3 443.7,213.7 439.0,215.1 436.2,219.4 430.6,217.5 423.1,214.7 417.5,212.8 416.6,211.9" fill="#CF8F6D"/>
<polygon points="413.7,214.7 415.2,213.3 418.4,215.1 425.9,219.4 434.4,222.2 440.0,226.9 439.0,230.6 432.5,231.1 425.9,229.7 418.4,223.1 412.8,221.2" fill="#CF8F6D"/>
<polygon points="430.5,201.8 432.0,197.5 432.7,194.5 434.2,191.7 435.0,189.2 441.7,187.9 450.0,188.3 452.5,190.0 453.1,190.2 452.4,202.6 441.4,203.6 430.6,203.4" fill="#D4841F"/>
<polygon points="453.1,190.2 453.3,189.2 458.3,187.9 465.0,187.5 468.4,189.4 469.1,196.0 466.2,204.0 462.6,204.7 461.1,209.1 458.2,209.1 457.5,204.7 452.4,202.6" fill="#EACBCF"/>
<polygon points="470.2,192.9 478.9,191.5 482.6,195.8 483.3,206.0 481.1,210.4 475.3,206.0 470.2,204.6" fill="#BE5B04"/>
<polygon points="441.4,203.6 452.4,202.6 457.5,204.7 458.2,209.1 461.1,209.1 462.6,204.7 466.2,204.0 470.2,204.6 475.3,206.0 468.7,216.2 462.2,224.2 454.1,222.1 446.1,219.9 445.4,216.2 447.6,213.3 446.5,212.3 441.9,207.2" fill="#BE5B04"/>
</g>
<polyline points="475.6,153.1 477.5,160.0 480.0,168.8 482.5,176.2 484.4,182.5 487.5,188.8 491.2,196.2 493.8,201.2 495.0,204.7 496.4,208.4 495.9,214.1 495.0,221.6 493.6,228.1 493.1,229.3" fill="none" stroke="#8a5a3a" stroke-width="1.1" stroke-linejoin="round"/>
<polygon points="493.1,229.1 493.1,231.4 483.7,233.3 484.7,231.9 490.3,229.8" fill="#BE5B04" stroke="#474747" stroke-width="0.5"/>
<polyline points="483.7,233.3 476.2,235.6 470.6,239.8 469.7,240.8" fill="none" stroke="#474747" stroke-width="1.3"/>
<polyline points="483.7,233.3 476.2,235.6 470.6,239.8" fill="none" stroke="#BE5B04" stroke-width="0.6"/>
<polyline points="456.3,251.9 452.0,256.0 448.3,260.0 444.1,268.9" fill="none" stroke="#7a4a2a" stroke-width="1.2"/>
<line x1="86.70" y1="318.7" x2="86.70" y2="322.6" stroke="#333" stroke-width="1.1"/>
<line x1="182.65" y1="318.7" x2="182.65" y2="322.6" stroke="#333" stroke-width="1.1"/>
<line x1="278.60" y1="318.7" x2="278.60" y2="322.6" stroke="#333" stroke-width="1.1"/>
<line x1="374.55" y1="318.7" x2="374.55" y2="322.6" stroke="#333" stroke-width="1.1"/>
<line x1="470.50" y1="318.7" x2="470.50" y2="322.6" stroke="#333" stroke-width="1.1"/>
<line x1="46.2" y1="157.00" x2="50.0" y2="157.00" stroke="#333" stroke-width="1.1"/>
<line x1="46.2" y1="186.36" x2="50.0" y2="186.36" stroke="#333" stroke-width="1.1"/>
<line x1="46.2" y1="215.72" x2="50.0" y2="215.72" stroke="#333" stroke-width="1.1"/>
<line x1="46.2" y1="245.08" x2="50.0" y2="245.08" stroke="#333" stroke-width="1.1"/>
<line x1="46.2" y1="274.44" x2="50.0" y2="274.44" stroke="#333" stroke-width="1.1"/>
<line x1="46.2" y1="303.80" x2="50.0" y2="303.80" stroke="#333" stroke-width="1.1"/>
<text x="86.70" y="333.6" font-size="11.73" fill="#4D4D4D" stroke="#4D4D4D" stroke-width="0.2" text-anchor="middle">84<tspan dx="0.4" dy="-1.0" font-size="9.8">°</tspan><tspan dx="0.4" dy="1.0">W</tspan></text>
<text x="182.65" y="333.6" font-size="11.73" fill="#4D4D4D" stroke="#4D4D4D" stroke-width="0.2" text-anchor="middle">82<tspan dx="0.4" dy="-1.0" font-size="9.8">°</tspan><tspan dx="0.4" dy="1.0">W</tspan></text>
<text x="278.60" y="333.6" font-size="11.73" fill="#4D4D4D" stroke="#4D4D4D" stroke-width="0.2" text-anchor="middle">80<tspan dx="0.4" dy="-1.0" font-size="9.8">°</tspan><tspan dx="0.4" dy="1.0">W</tspan></text>
<text x="374.55" y="333.6" font-size="11.73" fill="#4D4D4D" stroke="#4D4D4D" stroke-width="0.2" text-anchor="middle">78<tspan dx="0.4" dy="-1.0" font-size="9.8">°</tspan><tspan dx="0.4" dy="1.0">W</tspan></text>
<text x="470.50" y="333.6" font-size="11.73" fill="#4D4D4D" stroke="#4D4D4D" stroke-width="0.2" text-anchor="middle">76<tspan dx="0.4" dy="-1.0" font-size="9.8">°</tspan><tspan dx="0.4" dy="1.0">W</tspan></text>
<text x="43.0" y="161.70" font-size="11.73" fill="#4D4D4D" stroke="#4D4D4D" stroke-width="0.2" text-anchor="end">36.5<tspan dx="0.4" dy="-1.0" font-size="9.8">°</tspan><tspan dx="0.4" dy="1.0">N</tspan></text>
<text x="43.0" y="191.06" font-size="11.73" fill="#4D4D4D" stroke="#4D4D4D" stroke-width="0.2" text-anchor="end">36.0<tspan dx="0.4" dy="-1.0" font-size="9.8">°</tspan><tspan dx="0.4" dy="1.0">N</tspan></text>
<text x="43.0" y="220.42" font-size="11.73" fill="#4D4D4D" stroke="#4D4D4D" stroke-width="0.2" text-anchor="end">35.5<tspan dx="0.4" dy="-1.0" font-size="9.8">°</tspan><tspan dx="0.4" dy="1.0">N</tspan></text>
<text x="43.0" y="249.78" font-size="11.73" fill="#4D4D4D" stroke="#4D4D4D" stroke-width="0.2" text-anchor="end">35.0<tspan dx="0.4" dy="-1.0" font-size="9.8">°</tspan><tspan dx="0.4" dy="1.0">N</tspan></text>
<text x="43.0" y="279.14" font-size="11.73" fill="#4D4D4D" stroke="#4D4D4D" stroke-width="0.2" text-anchor="end">34.5<tspan dx="0.4" dy="-1.0" font-size="9.8">°</tspan><tspan dx="0.4" dy="1.0">N</tspan></text>
<text x="43.0" y="308.50" font-size="11.73" fill="#4D4D4D" stroke="#4D4D4D" stroke-width="0.2" text-anchor="end">34.0<tspan dx="0.4" dy="-1.0" font-size="9.8">°</tspan><tspan dx="0.4" dy="1.0">N</tspan></text>
<polygon points="598.5,270.9 588.5,260.9 598.5,250.9 608.5,260.9" fill="#FFFFFF" stroke="#FFFFFF" stroke-width="0.3"/>
<polygon points="608.5,260.9 598.5,250.9 608.5,240.9 618.5,250.9" fill="#EACBCF" stroke="#EACBCF" stroke-width="0.3"/>
<polygon points="618.5,250.9 608.5,240.9 618.5,230.9 628.5,240.9" fill="#D1959C" stroke="#D1959C" stroke-width="0.3"/>
<polygon points="628.5,240.9 618.5,230.9 628.5,220.9 638.5,230.9" fill="#B5666E" stroke="#B5666E" stroke-width="0.3"/>
<polygon points="588.5,260.9 578.5,250.9 588.5,240.9 598.5,250.9" fill="#FFF4CF" stroke="#FFF4CF" stroke-width="0.3"/>
<polygon points="598.5,250.9 588.5,240.9 598.5,230.9 608.5,240.9" fill="#E7C59C" stroke="#E7C59C" stroke-width="0.3"/>
<polygon points="608.5,240.9 598.5,230.9 608.5,220.9 618.5,230.9" fill="#CF8F6D" stroke="#CF8F6D" stroke-width="0.3"/>
<polygon points="618.5,230.9 608.5,220.9 618.5,210.9 628.5,220.9" fill="#B8634A" stroke="#B8634A" stroke-width="0.3"/>
<polygon points="578.5,250.9 568.5,240.9 578.5,230.9 588.5,240.9" fill="#FEEC9F" stroke="#FEEC9F" stroke-width="0.3"/>
<polygon points="588.5,240.9 578.5,230.9 588.5,220.9 598.5,230.9" fill="#E6BD6D" stroke="#E6BD6D" stroke-width="0.3"/>
<polygon points="598.5,230.9 588.5,220.9 598.5,210.9 608.5,220.9" fill="#D08A46" stroke="#D08A46" stroke-width="0.3"/>
<polygon points="608.5,220.9 598.5,210.9 608.5,200.9 618.5,210.9" fill="#BA5F28" stroke="#BA5F28" stroke-width="0.3"/>
<polygon points="568.5,240.9 558.5,230.9 568.5,220.9 578.5,230.9" fill="#FEE36E" stroke="#FEE36E" stroke-width="0.3"/>
<polygon points="578.5,230.9 568.5,220.9 578.5,210.9 588.5,220.9" fill="#E7B44C" stroke="#E7B44C" stroke-width="0.3"/>
<polygon points="588.5,220.9 578.5,210.9 588.5,200.9 598.5,210.9" fill="#D4841F" stroke="#D4841F" stroke-width="0.3"/>
<polygon points="598.5,210.9 588.5,200.9 598.5,190.9 608.5,200.9" fill="#BE5B04" stroke="#BE5B04" stroke-width="0.3"/>
<polygon points="598.5,270.9 588.5,260.9 598.5,250.9 608.5,260.9" fill="none" stroke="#fff" stroke-opacity="0.35" stroke-width="0.35"/>
<polygon points="608.5,260.9 598.5,250.9 608.5,240.9 618.5,250.9" fill="none" stroke="#fff" stroke-opacity="0.35" stroke-width="0.35"/>
<polygon points="618.5,250.9 608.5,240.9 618.5,230.9 628.5,240.9" fill="none" stroke="#fff" stroke-opacity="0.35" stroke-width="0.35"/>
<polygon points="628.5,240.9 618.5,230.9 628.5,220.9 638.5,230.9" fill="none" stroke="#fff" stroke-opacity="0.35" stroke-width="0.35"/>
<polygon points="588.5,260.9 578.5,250.9 588.5,240.9 598.5,250.9" fill="none" stroke="#fff" stroke-opacity="0.35" stroke-width="0.35"/>
<polygon points="598.5,250.9 588.5,240.9 598.5,230.9 608.5,240.9" fill="none" stroke="#fff" stroke-opacity="0.35" stroke-width="0.35"/>
<polygon points="608.5,240.9 598.5,230.9 608.5,220.9 618.5,230.9" fill="none" stroke="#fff" stroke-opacity="0.35" stroke-width="0.35"/>
<polygon points="618.5,230.9 608.5,220.9 618.5,210.9 628.5,220.9" fill="none" stroke="#fff" stroke-opacity="0.35" stroke-width="0.35"/>
<polygon points="578.5,250.9 568.5,240.9 578.5,230.9 588.5,240.9" fill="none" stroke="#fff" stroke-opacity="0.35" stroke-width="0.35"/>
<polygon points="588.5,240.9 578.5,230.9 588.5,220.9 598.5,230.9" fill="none" stroke="#fff" stroke-opacity="0.35" stroke-width="0.35"/>
<polygon points="598.5,230.9 588.5,220.9 598.5,210.9 608.5,220.9" fill="none" stroke="#fff" stroke-opacity="0.35" stroke-width="0.35"/>
<polygon points="608.5,220.9 598.5,210.9 608.5,200.9 618.5,210.9" fill="none" stroke="#fff" stroke-opacity="0.35" stroke-width="0.35"/>
<polygon points="568.5,240.9 558.5,230.9 568.5,220.9 578.5,230.9" fill="none" stroke="#fff" stroke-opacity="0.35" stroke-width="0.35"/>
<polygon points="578.5,230.9 568.5,220.9 578.5,210.9 588.5,220.9" fill="none" stroke="#fff" stroke-opacity="0.35" stroke-width="0.35"/>
<polygon points="588.5,220.9 578.5,210.9 588.5,200.9 598.5,210.9" fill="none" stroke="#fff" stroke-opacity="0.35" stroke-width="0.35"/>
<polygon points="598.5,210.9 588.5,200.9 598.5,190.9 608.5,200.9" fill="none" stroke="#fff" stroke-opacity="0.35" stroke-width="0.35"/>
<text x="0" y="0" font-size="10.20" fill="#1A1A1A" stroke="#1A1A1A" stroke-width="0.25" text-anchor="end" dominant-baseline="central" transform="translate(595.27,274.83) rotate(-45)">-2.745</text>
<text x="0" y="0" font-size="10.20" fill="#1A1A1A" stroke="#1A1A1A" stroke-width="0.25" text-anchor="end" dominant-baseline="central" transform="translate(585.27,264.83) rotate(-45)">-0.652</text>
<text x="0" y="0" font-size="10.20" fill="#1A1A1A" stroke="#1A1A1A" stroke-width="0.25" text-anchor="end" dominant-baseline="central" transform="translate(575.27,254.83) rotate(-45)">0.064</text>
<text x="0" y="0" font-size="10.20" fill="#1A1A1A" stroke="#1A1A1A" stroke-width="0.25" text-anchor="end" dominant-baseline="central" transform="translate(565.27,244.83) rotate(-45)">0.554</text>
<text x="0" y="0" font-size="10.20" fill="#1A1A1A" stroke="#1A1A1A" stroke-width="0.25" text-anchor="end" dominant-baseline="central" transform="translate(555.27,234.83) rotate(-45)">2.491</text>
<text x="0" y="0" font-size="10.20" fill="#1A1A1A" stroke="#1A1A1A" stroke-width="0.25" text-anchor="start" dominant-baseline="central" transform="translate(602.13,275.23) rotate(45)">0.5</text>
<text x="0" y="0" font-size="10.20" fill="#1A1A1A" stroke="#1A1A1A" stroke-width="0.25" text-anchor="start" dominant-baseline="central" transform="translate(612.13,265.23) rotate(45)">1.4</text>
<text x="0" y="0" font-size="10.20" fill="#1A1A1A" stroke="#1A1A1A" stroke-width="0.25" text-anchor="start" dominant-baseline="central" transform="translate(622.13,255.23) rotate(45)">2.1</text>
<text x="0" y="0" font-size="10.20" fill="#1A1A1A" stroke="#1A1A1A" stroke-width="0.25" text-anchor="start" dominant-baseline="central" transform="translate(632.13,245.23) rotate(45)">3.3</text>
<text x="0" y="0" font-size="10.20" fill="#1A1A1A" stroke="#1A1A1A" stroke-width="0.25" text-anchor="start" dominant-baseline="central" transform="translate(642.13,235.23) rotate(45)">3.9</text>
<text x="0" y="0" font-size="11.8" font-weight="bold" fill="#000" text-anchor="middle" dominant-baseline="central" transform="translate(542.1,287.9) rotate(45)">value</text>
<text x="0" y="0" font-size="11.8" font-weight="bold" fill="#000" text-anchor="middle" dominant-baseline="central" transform="translate(643.4,277.4) rotate(-45)">sd</text>
</svg></body></html>
